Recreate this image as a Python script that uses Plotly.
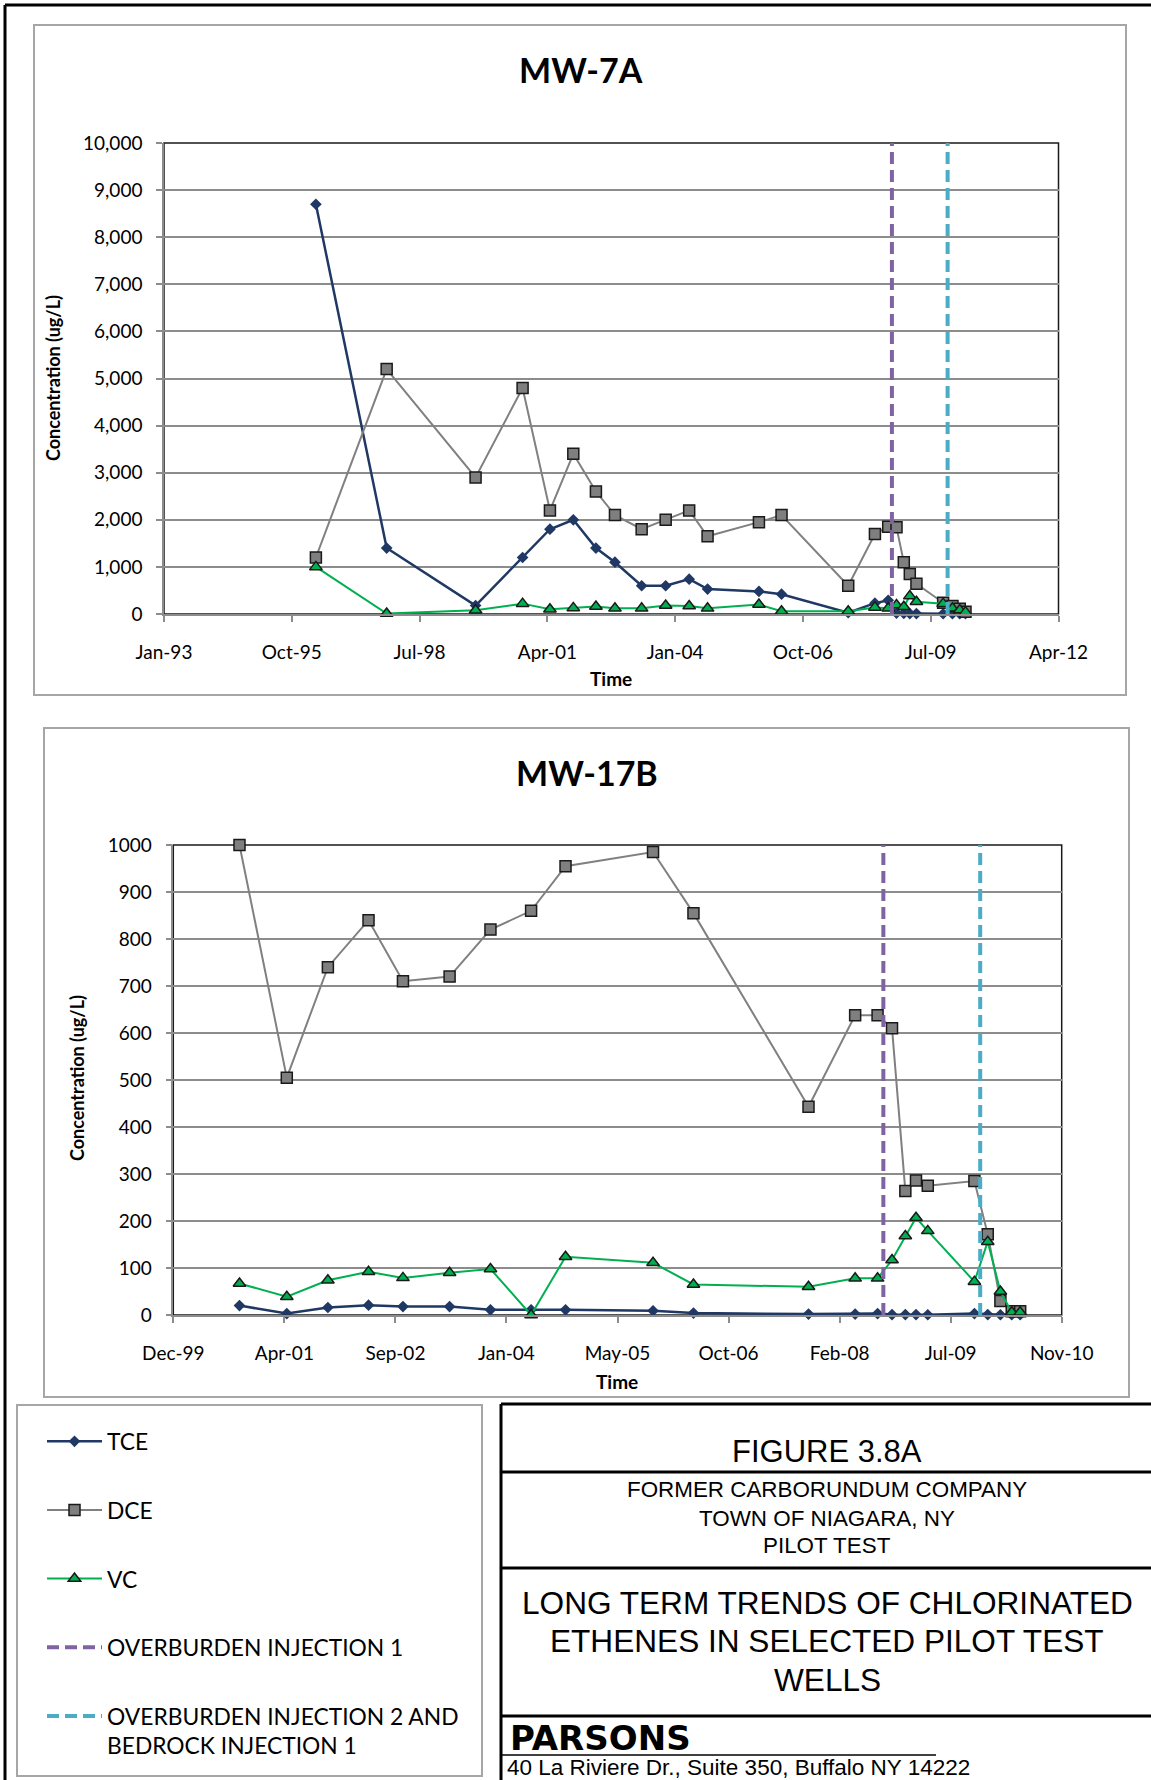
import plotly.graph_objects as go

W, H = 1151, 1780

# ---------------- data ----------------
mw7a_dates = ["1996-05-03", "1997-11-08", "1999-10-05", "2000-10-07", "2001-05-09",
              "2001-11-08", "2002-05-04", "2002-09-30", "2003-04-27", "2003-11-01",
              "2004-05-03", "2004-09-24", "2005-10-31", "2006-04-26", "2007-09-30",
              "2008-04-26", "2008-08-08", "2008-10-12", "2008-12-08", "2009-01-24",
              "2009-03-17", "2009-10-12", "2009-12-24", "2010-02-19", "2010-04-05"]
mw7a_tce = [8700, 1400, 180, 1200, 1800, 2000, 1400, 1100, 600, 600,
            740, 530, 480, 420, 30, 230, 290, 20, 15, 10,
            10, 5, 5, 5, 5]
mw7a_dce = [1200, 5200, 2900, 4800, 2200, 3400, 2600, 2100, 1800, 2000,
            2200, 1650, 1950, 2100, 600, 1700, 1850, 1840, 1100, 850,
            640, 240, 170, 110, 50]
mw7a_vc = [1000, 10, 80, 220, 100, 130, 160, 120, 120, 180,
           170, 120, 200, 60, 60, 140, 120, 190, 155, 380,
           260, 220, 120, 85, 40]

mw17b_dates = ["2000-09-29", "2001-04-30", "2001-11-01", "2002-05-03", "2002-10-05",
               "2003-05-03", "2003-11-03", "2004-05-04", "2004-10-06", "2005-11-04",
               "2006-05-05", "2007-10-05", "2008-05-02", "2008-08-11", "2008-10-15",
               "2008-12-14", "2009-01-31", "2009-03-25", "2009-10-21", "2009-12-20",
               "2010-02-15", "2010-04-07", "2010-05-15"]
mw17b_tce = [20, 3, 16, 21, 18, 18, 11, 11, 11, 9,
             4, 2, 2, 3, 1, 1, 1, 0.5, 3, 1,
             0.5, 0.5, 0.5]
mw17b_dce = [1000, 505, 740, 840, 710, 720, 820, 860, 955, 985,
             855, 443, 638, 638, 610, 264, 286, 275, 285, 172,
             30, 8, 8]
mw17b_vc = [67, 39, 74, 92, 79, 90, 98, 0, 124, 111,
            65, 60, 78, 78, 117, 168, 207, 179, 71, 156,
            50, 6, 6]

injection_names = ["OVERBURDEN INJECTION 1", "OVERBURDEN INJECTION 2 AND<br>BEDROCK INJECTION 1"]
injection_dates = ["2008-09-06", "2009-11-16"]

mw7a_ticks = ["1993-01-30", "1995-10-27", "1998-07-23", "2001-04-19",
              "2004-01-14", "2006-10-10", "2009-07-06", "2012-04-02"]
mw7a_ticktext = ["Jan-93", "Oct-95", "Jul-98", "Apr-01", "Jan-04", "Oct-06", "Jul-09", "Apr-12"]
mw17b_ticks = ["1999-12-06", "2001-04-19", "2002-09-01", "2004-01-14", "2005-05-28",
               "2006-10-10", "2008-02-22", "2009-07-06", "2010-11-18"]
mw17b_ticktext = ["Dec-99", "Apr-01", "Sep-02", "Jan-04", "May-05", "Oct-06", "Feb-08", "Jul-09", "Nov-10"]

# ---------------- styles ----------------
TCE_C = "#1F3864"
DCE_C = "#808080"
VC_C = "#00B050"
INJ_C = ["#8064A2", "#4BACC6"]
GRID = "#8C8C8C"
CFONT = "Lato, Liberation Sans, Arial, sans-serif"
AFONT = "Liberation Sans, Arial, sans-serif"


def px(x):
    return x / W


def py(y):
    return 1 - y / H


fig = go.Figure()

series_specs = [
    ("TCE", dict(color=TCE_C, width=2.5), dict(symbol="diamond", size=9, color=TCE_C,
                                                line=dict(color=TCE_C, width=0))),
    ("DCE", dict(color=DCE_C, width=2), dict(symbol="square", size=11, color="#7F7F7F",
                                              line=dict(color="#1a1a1a", width=1.5))),
    ("VC", dict(color=VC_C, width=2), dict(symbol="triangle-up", size=11, color=VC_C,
                                            line=dict(color="#1a1a1a", width=1.5))),
]

charts = [
    ("x", "y", mw7a_dates, [mw7a_tce, mw7a_dce, mw7a_vc], 10000, True),
    ("x2", "y2", mw17b_dates, [mw17b_tce, mw17b_dce, mw17b_vc], 1000, False),
]

for xa, ya, dates, vals, ymax, show in charts:
    for (name, lsty, msty), v in zip(series_specs, vals):
        fig.add_trace(go.Scatter(
            x=dates, y=v, name=name, mode="lines+markers", line=lsty, marker=msty,
            xaxis=xa, yaxis=ya, showlegend=show, legendgroup=name, cliponaxis=False))
    for nm, d, c in zip(injection_names, injection_dates, INJ_C):
        fig.add_trace(go.Scatter(
            x=[d, d], y=[0, ymax], name=nm, mode="lines",
            line=dict(color=c, width=4, dash="12px,6px"),
            xaxis=xa, yaxis=ya, showlegend=show, legendgroup=nm, cliponaxis=False))

# plot areas (pixel)
P1 = (164, 1058.5, 143, 614)
P2 = (173.3, 1061.7, 845, 1315)

common_x = dict(showgrid=False, showline=True, linecolor=GRID, linewidth=1.5,
                ticks="outside", ticklen=6, tickcolor=GRID, tickwidth=1.5,
                tickfont=dict(family=CFONT, size=19, color="#000"), ticklabelstandoff=14,
                type="date", zeroline=False)
common_y = dict(showgrid=True, gridcolor=GRID, gridwidth=1.5, showline=True, linecolor=GRID,
                linewidth=1.5, ticks="outside", ticklen=6, tickcolor=GRID, tickwidth=1.5,
                tickfont=dict(family=CFONT, size=19, color="#000"), ticklabelstandoff=10,
                zeroline=False)

fig.update_layout(
    xaxis=dict(common_x, domain=[px(P1[0]), px(P1[1])], anchor="y",
               range=[mw7a_ticks[0], mw7a_ticks[-1]], tickvals=mw7a_ticks, ticktext=mw7a_ticktext),
    yaxis=dict(common_y, domain=[py(P1[3]), py(P1[2])], anchor="x",
               range=[0, 10000], dtick=1000, tickformat=",d"),
    xaxis2=dict(common_x, domain=[px(P2[0]), px(P2[1])], anchor="y2",
                range=[mw17b_ticks[0], mw17b_ticks[-1]], tickvals=mw17b_ticks, ticktext=mw17b_ticktext),
    yaxis2=dict(common_y, domain=[py(P2[3]), py(P2[2])], anchor="x2",
                range=[0, 1000], dtick=100, tickformat="d"),
)

shapes = []
# black plot-area borders (top/right visible)
for (l, r, t, b) in (P1, P2):
    shapes.append(dict(type="rect", xref="paper", yref="paper", x0=px(l), x1=px(r), y0=py(b), y1=py(t),
                       line=dict(color="#1a1a1a", width=1.5), layer="below"))
# chart boxes
for (l, t, r, b) in ((34, 25, 1126, 695), (44, 728, 1129, 1397)):
    shapes.append(dict(type="rect", xref="paper", yref="paper", x0=px(l), x1=px(r), y0=py(b), y1=py(t),
                       line=dict(color="#A6A6A6", width=2)))
# legend box
shapes.append(dict(type="rect", xref="paper", yref="paper", x0=px(17), x1=px(482), y0=py(1776), y1=py(1405),
                   line=dict(color="#A6A6A6", width=2)))
# outer frame
shapes.append(dict(type="line", xref="paper", yref="paper", x0=px(5), x1=px(1151), y0=py(5), y1=py(5),
                   line=dict(color="#000", width=3)))
shapes.append(dict(type="line", xref="paper", yref="paper", x0=px(5), x1=px(5), y0=py(5), y1=py(1780),
                   line=dict(color="#000", width=3)))
# title block
shapes.append(dict(type="line", xref="paper", yref="paper", x0=px(501), x1=px(501), y0=py(1404), y1=py(1780),
                   line=dict(color="#000", width=3)))
for yy in (1404, 1472, 1568, 1716):
    shapes.append(dict(type="line", xref="paper", yref="paper", x0=px(501), x1=px(1151), y0=py(yy), y1=py(yy),
                       line=dict(color="#000", width=3)))
shapes.append(dict(type="line", xref="paper", yref="paper", x0=px(501), x1=px(936), y0=py(1755), y1=py(1755),
                   line=dict(color="#000", width=1.5)))

annotations = []


def ann(text, x, y, size, family=CFONT, bold=False, xanchor="center", angle=0):
    annotations.append(dict(text=("<b>%s</b>" % text) if bold else text, x=px(x), y=py(y),
                            xref="paper", yref="paper", xanchor=xanchor, yanchor="middle",
                            showarrow=False, textangle=angle,
                            font=dict(family=family, size=size, color="#000")))


ann("MW-7A", 581, 70, 34, bold=True)
ann("MW-17B", 587, 772, 34, bold=True)
ann("Time", 611, 678, 19, bold=True)
ann("Time", 617, 1381, 19, bold=True)
ann("Concentration (ug/L)", 53, 378, 18, bold=True, angle=-90)
ann("Concentration (ug/L)", 77, 1078, 18, bold=True, angle=-90)

ann("FIGURE 3.8A", 827, 1451, 31, family=AFONT)
ann("FORMER CARBORUNDUM COMPANY", 827, 1489, 22.4, family=AFONT)
ann("TOWN OF NIAGARA, NY", 827, 1518, 22.4, family=AFONT)
ann("PILOT TEST", 827, 1545, 22.4, family=AFONT)
ann("LONG TERM TRENDS OF CHLORINATED", 827, 1603, 31.6, family=AFONT)
ann("ETHENES IN SELECTED PILOT TEST", 827, 1641, 31.6, family=AFONT)
ann("WELLS", 827, 1680, 31.6, family=AFONT)
ann("PARSONS", 508, 1738, 34, family="DejaVu Sans, sans-serif", bold=True, xanchor="left")
ann("40 La Riviere Dr., Suite 350, Buffalo NY 14222", 505, 1767, 22.5, family=AFONT, xanchor="left")

fig.update_layout(
    width=W, height=H, margin=dict(l=0, r=0, t=0, b=0, pad=0, autoexpand=False),
    paper_bgcolor="white", plot_bgcolor="white",
    shapes=shapes, annotations=annotations,
    legend=dict(x=px(42), y=py(1420), xanchor="left", yanchor="top",
                font=dict(family=CFONT, size=22.8, color="#000"),
                bgcolor="rgba(0,0,0,0)", tracegroupgap=36, itemwidth=55, valign="top",
                traceorder="grouped"),
)

fig.write_html("out.html", config={"displayModeBar": False},
               post_script="document.body.style.margin='0px';document.body.style.overflow='hidden';")
